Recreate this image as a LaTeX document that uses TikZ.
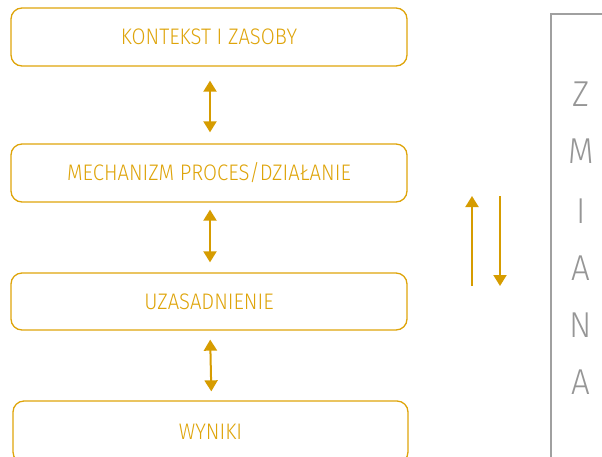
\documentclass[tikz,border=0pt]{standalone}
\usepackage{fontspec}
\setmainfont{Fira Sans}[UprightFont=* Light, FakeStretch=0.9]
\newfontfamily\zfont{Fira Sans}[UprightFont=* Light, FakeStretch=0.92]
\usetikzlibrary{arrows.meta}
\definecolor{gold}{RGB}{222,164,10}
\definecolor{goldarrow}{RGB}{214,156,0}
\definecolor{greyline}{RGB}{160,160,160}
\definecolor{greytext}{RGB}{150,150,150}
\tikzset{
  stagebox/.style={draw=gold, line width=1.3pt, rounded corners=11pt, minimum width=396pt, minimum height=58pt, inner sep=0pt, text=gold, font=\fontsize{22.5}{22.5}\selectfont},
  biarrow/.style={goldarrow, line width=2pt, {Triangle[width=13pt,length=11pt]}-{Triangle[width=13pt,length=11pt]}},
  onearrow/.style={goldarrow, line width=2pt, -{Triangle[width=13pt,length=11pt]}},
  letter/.style={text=greytext, font=\zfont\fontsize{36}{36}\selectfont, inner sep=0pt}
}
\begin{document}
\begin{tikzpicture}[x=1pt,y=-1pt]
\useasboundingbox (0,0) rectangle (602,456);
\clip (0,0) rectangle (602,456);
\node[stagebox] (b1) at (209,37) {KONTEKST I ZASOBY};
\node[stagebox] (b2) at (209,173) {MECHANIZM PROCES/DZIAŁANIE};
\node[stagebox, minimum height=57pt] (b3) at (209,301.5) {UZASADNIENIE};
\node[stagebox, minimum width=395pt, minimum height=62pt] (b4) at (210.5,432) {};
\node[text=gold, font=\fontsize{22.5}{22.5}\selectfont] (t4) at (210.5,432) {WYNIKI};
\draw[biarrow, shorten <=14pt, shorten >=11pt] ([xshift=1pt]b1.south) -- ([xshift=1pt]b2.north);
\draw[biarrow, shorten <=7pt, shorten >=10pt] ([xshift=1pt]b2.south) -- ([xshift=1pt]b3.north);
\draw[biarrow, shorten <=9pt, shorten >=9pt] ([xshift=1pt]b3.south) -- ([xshift=1pt]b4.north);
\coordinate (u1) at (472,286);
\coordinate (u2) at (472,196);
\coordinate (d1) at (500,196);
\coordinate (d2) at (500,286);
\draw[onearrow] (u1) -- (u2);
\draw[onearrow] (d1) -- (d2);
\draw[greyline, line width=1.5pt] (640,14) -- (551,14) -- (551,480);
\node[letter] (z1) at (581,94) {Z};
\node[letter] (z2) at (581,151) {M};
\node[letter] (z3) at (581,211) {I};
\node[letter] (z4) at (581,268) {A};
\node[letter] (z5) at (581,325) {N};
\node[letter] (z6) at (581,382) {A};
\end{tikzpicture}
\end{document}
